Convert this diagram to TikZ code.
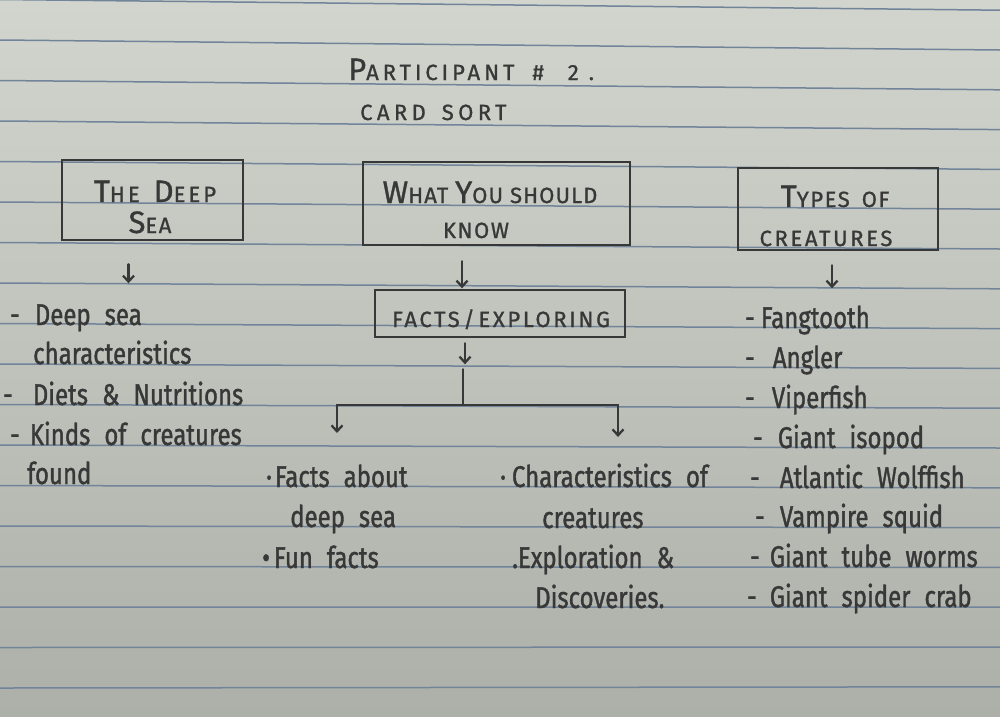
\documentclass[tikz,border=0pt]{standalone}
\usepackage{fontspec}
\setmainfont{Fira Sans}[FakeStretch=0.8, FakeBold=1.2, WordSpace=2.2]
\newfontfamily\capsfamily{Fira Sans}[LetterSpace=7, FakeBold=1]
\usetikzlibrary{arrows.meta}
\definecolor{paperTop}{HTML}{D2D5CD}
\definecolor{paperMid}{HTML}{D9D7CC}
\definecolor{paperBot}{HTML}{ADB0A9}
\definecolor{ruling}{HTML}{71849A}
\definecolor{ink}{HTML}{383838}
\newcommand\handfont{\fontsize{30}{40}\selectfont}
\newcommand\capsfont{\capsfamily\fontsize{22}{34}\selectfont}
\newcommand\Ini[1]{{\fontsize{31}{34}\selectfont #1}}
\newcommand\spread[1]{\addfontfeature{LetterSpace=#1}}
\begin{document}
\begin{tikzpicture}[x=1pt,y=-1pt,
  rule/.style={draw=ruling, line width=1.5pt},
  card/.style={draw=ink, line width=2.6pt, rectangle, inner sep=0pt},
  hand/.style={anchor=base west, inner sep=0pt, font=\handfont, text=ink},
  capline/.style={anchor=base west, inner sep=0pt, font=\capsfont, text=ink},
  cardtext/.style={capline, anchor=base},
  stroke/.style={draw=ink, line width=2.3pt, line cap=round},
  arr/.style={stroke, -{Straight Barb[length=6pt,width=11pt]}}]

% paper and ruled lines
\useasboundingbox (0,0) rectangle (1000,716);
\shade[top color=paperTop, middle color=paperMid, bottom color=paperBot]
  (0,0) rectangle (1000,716);
\foreach \k in {0,...,17}
  \draw[rule] (0,{-0.5+40.5*\k}) -- (1000,{10.2+39.8*\k});

% heading
\node[capline] (title) at (348,80)
  {{\spread{18}\Ini{P}ARTICIPANT}\hspace{18pt}\#\hspace{24pt}2\hspace{10pt}.};
\node[capline] (sub) at (360,120) {\spread{20}CARD\hspace{16pt}SORT};

% category cards
\node[card, minimum width=181pt, minimum height=80pt] (deep) at (152.5,200) {};
\node[card, minimum width=267pt, minimum height=83pt] (know) at (496.5,203.5) {};
\node[card, minimum width=200pt, minimum height=82pt] (types) at (838,209) {};
\node[card, minimum width=250pt, minimum height=47pt] (facts) at (500,313.5) {};

\node[cardtext] (deepA) at (155,202) {\spread{14}\Ini{T}HE\hspace{14pt}\Ini{D}EEP};
\node[cardtext] (deepB) at (150,233) {\Ini{S}EA};
\node[cardtext] (knowA) at (490,203) {\spread{5}\Ini{W}HAT \Ini{Y}OU SHOULD};
\node[cardtext] (knowB) at (476,238) {KNOW};
\node[cardtext] (typesA) at (835,207) {\Ini{T}YPES\hspace{12pt}OF};
\node[cardtext] (typesB) at (826,246) {\spread{12}CREATURES};
\node[cardtext] (factsA) at (501,327) {\spread{12}FACTS\,/\,EXPLORING};

% arrows under the cards
\draw[arr] (deep.south) ++(-24,23) -- ++(0,19);
\draw[arr] (know.south) ++(-34.5,15) -- ++(0,27);
\draw[arr] (types.south) ++(-6,14) -- ++(0,23);
\draw[arr] (facts.south) ++(-35,5) -- ++(0,21);

% branching under FACTS / EXPLORING
\coordinate (fork) at (463,405);
\coordinate (forkL) at (337,405);
\coordinate (forkR) at (618,405);
\draw[stroke] (facts.south) ++(-37,31) -- (fork);
\draw[stroke] (forkL) -- (forkR);
\draw[arr] (forkL) -- ++(0,28);
\draw[arr] (forkR) -- ++(0,32);

% THE DEEP SEA items
\node[hand] (d1) at (10,325) {-\hspace{15pt}Deep sea};
\node[hand] (d2) at (33,364) {characteristics};
\node[hand] (d3) at (3,405) {-\hspace{20pt}Diets \& Nutritions};
\node[hand] (d4) at (10,445) {-\hspace{10pt}Kinds of creatures};
\node[hand] (d5) at (27,484) {found};

% FACTS / EXPLORING items
\node[hand] (m1) at (266,487) {·\hspace{3pt}Facts about};
\node[hand] (m2) at (290,527) {deep sea};
\node[hand] (m3) at (262,568) {•\hspace{4pt}Fun facts};
\node[hand] (m4) at (500,487) {·\hspace{6pt}Characteristics of};
\node[hand] (m5) at (542,528) {creatures};
\node[hand] (m6) at (512,568) {.Exploration \&};
\node[hand] (m7) at (535,608) {Discoveries.};

% TYPES OF CREATURES items
\node[hand] (t1) at (745,328) {-\hspace{6pt}Fangtooth};
\node[hand] (t2) at (745,368) {-\hspace{18pt}Angler};
\node[hand] (t3) at (745,408) {-\hspace{17pt}Viperfish};
\node[hand] (t4) at (753,448) {-\hspace{15pt}Giant isopod};
\node[hand] (t5) at (750,488) {-\hspace{20pt}Atlantic Wolffish};
\node[hand] (t6) at (755,527) {-\hspace{15pt}Vampire squid};
\node[hand] (t7) at (750,567) {-\hspace{10pt}Giant tube worms};
\node[hand] (t8) at (747,607) {-\hspace{13pt}Giant spider crab};
\end{tikzpicture}
\end{document}
